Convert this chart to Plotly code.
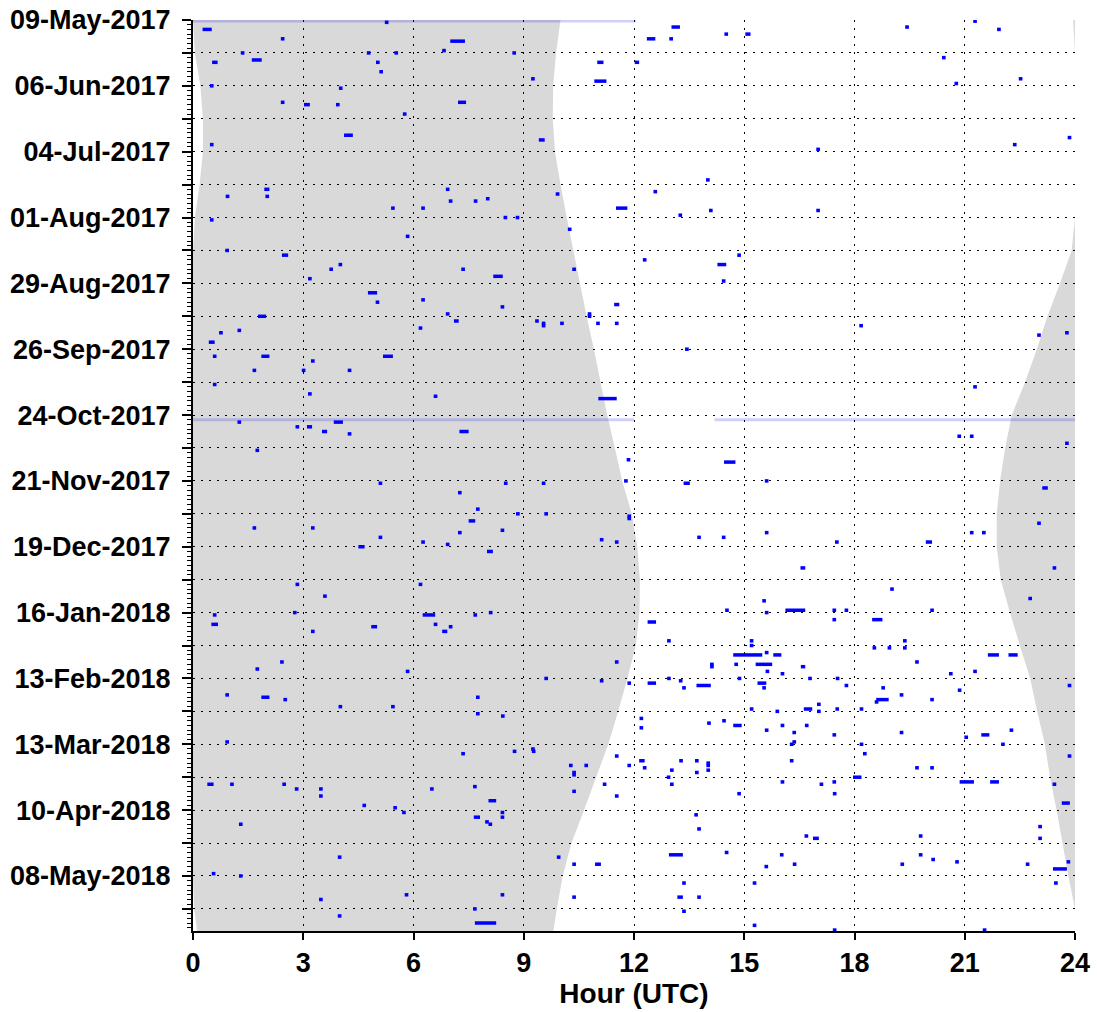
import plotly.graph_objects as go

# ---------------- data ----------------
# y positions are "days since 09-May-2017"
day_ticks = [0, 14, 28, 42, 56, 70, 84, 98, 112, 126, 140, 154, 168, 182,
             196, 210, 224, 238, 252, 266, 280, 294, 308, 322, 336, 350, 364, 378]
day_labels = ['09-May-2017', '', '06-Jun-2017', '', '04-Jul-2017', '', '01-Aug-2017', '',
              '29-Aug-2017', '', '26-Sep-2017', '', '24-Oct-2017', '', '21-Nov-2017', '',
              '19-Dec-2017', '', '16-Jan-2018', '', '13-Feb-2018', '', '13-Mar-2018', '',
              '10-Apr-2018', '', '08-May-2018', '']
hour_ticks = [0, 3, 6, 9, 12, 15, 18, 21, 24]
hour_labels = ['0', '3', '6', '9', '12', '15', '18', '21', '24']

# night shading: sunrise / sunset (UTC hours, sunset may pass 24)
sun_day = [0, 14, 28, 42, 56, 70, 84, 98, 112, 126, 140, 154, 168, 182, 196,
           210, 224, 238, 252, 266, 280, 294, 308, 322, 336, 350, 364, 378, 388]
sunrise_hr = [10.00, 9.88, 9.80, 9.79, 9.85, 10.00, 10.17, 10.35, 10.53, 10.71,
              10.91, 11.09, 11.27, 11.48, 11.68, 11.94, 12.09, 12.16, 12.15, 12.05,
              11.82, 11.57, 11.30, 10.97, 10.64, 10.30, 10.06, 9.90, 9.80]
sunset_hr = [23.95, 24.05, 24.20, 24.27, 24.27, 24.18, 24.05, 23.91, 23.59, 23.25,
             22.96, 22.64, 22.28, 22.10, 21.96, 21.87, 21.87, 21.98, 22.23, 22.50,
             22.78, 22.97, 23.18, 23.32, 23.50, 23.66, 23.82, 24.03, 24.12]

# faint data-gap lines
gap_day = [0.4, 170, 170]
gap_start = [0.0, 0.0, 14.19]
gap_end = [12.05, 12.0, 24.0]

# events
ev_day = [
    4, 8, 14, 18, 17, 14, 18, 22, 14, 1,
    28, 29, 35, 36, 36, 49, 53, 72, 75, 75,
    85, 80, 9, 13, 35, 40, 72, 76, 77, 77,
    80, 92, 14, 25, 18, 26, 18, 8, 8, 3,
    6, 6, 3, 0.5, 4, 16, 27, 25, 51, 55,
    53, 50, 68, 73, 74, 80, 81, 81, 83, 84,
    84, 89, 102, 106, 121, 125, 126, 128, 129, 130,
    129, 129, 129, 161, 187, 196, 197, 210, 211, 212,
    221, 222, 256, 273, 280, 281, 282, 282, 297, 301,
    311, 313, 317, 317, 317, 315, 318, 320, 321, 325,
    328, 330, 356, 359, 359, 373, 98, 100, 104, 106,
    106, 110, 109, 116, 120, 119, 122, 126, 125, 128,
    131, 132, 133, 137, 143, 143, 143, 145, 149, 149,
    149, 155, 159, 160, 171, 173, 173, 171, 175, 176,
    175, 183, 197, 197, 201, 208, 210, 213, 216, 216,
    217, 218, 220, 222, 223, 224, 226, 240, 240, 245,
    252, 252, 253, 253, 253, 257, 257, 258, 258, 260,
    260, 273, 276, 277, 287, 288, 289, 288, 292, 292,
    295, 296, 307, 310, 311, 312, 325, 325, 325, 327,
    327, 330, 327, 326, 332, 334, 335, 337, 339, 337,
    339, 341, 342, 342, 356, 363, 364, 372, 372, 374,
    378, 381, 384, 100, 104, 111, 130, 134, 133, 140,
    156, 177, 177, 180, 188, 197, 196, 199, 214, 218,
    218, 220, 220, 218, 222, 222, 233, 233, 242, 246,
    247, 251, 252, 251, 251, 251, 251, 255, 255, 264,
    264, 266, 264, 267, 267, 267, 269, 270, 270, 270,
    270, 273, 274, 274, 274, 275, 275, 277, 277, 278,
    278, 280, 280, 280, 280, 281, 283, 282, 284, 284,
    283, 284, 285, 283, 287, 289, 289, 290, 291, 293,
    293, 293, 293, 294, 294, 298, 299, 300, 300, 300,
    302, 303, 304, 303, 304, 302, 305, 307, 308, 308,
    308, 312, 315, 315, 315, 313, 316, 317, 319, 319,
    320, 318, 318, 322, 322, 324, 324, 325, 324, 325,
    324, 325, 329, 329, 338, 344, 347, 348, 347, 354,
    355, 355, 359, 360, 359, 355, 357, 358, 367, 367,
    373, 373, 379, 385, 387, 387, 333, 343, 348, 359,
    358, 361, 367,
]
ev_start = [
    0.26, 2.39, 1.30, 0.52, 1.60, 4.73, 4.98, 5.07, 5.48, 5.22,
    0.46, 3.97, 2.39, 3.02, 3.89, 4.11, 0.46, 1.94, 0.89, 1.97,
    0.46, 5.39, 7.00, 6.78, 7.21, 5.71, 6.88, 7.97, 6.96, 7.64,
    6.21, 5.79, 8.69, 9.20, 11.00, 10.92, 12.02, 12.35, 12.96, 13.02,
    14.46, 15.03, 19.38, 21.23, 21.88, 20.38, 20.72, 22.47, 9.41, 16.96,
    22.31, 23.80, 13.96, 12.53, 9.87, 11.51, 14.04, 16.96, 13.21, 8.45,
    8.78, 10.20, 12.24, 10.32, 11.46, 10.74, 10.74, 9.31, 9.49, 9.49,
    9.99, 10.97, 11.48, 11.03, 11.80, 11.73, 9.49, 9.56, 11.82, 11.82,
    11.07, 11.48, 12.37, 11.48, 9.56, 11.07, 11.82, 12.37, 12.15, 12.15,
    9.22, 11.48, 10.23, 10.65, 11.82, 12.14, 12.24, 10.32, 10.32, 11.15,
    10.32, 11.48, 9.90, 10.32, 10.94, 10.32, 0.88, 2.42, 3.96, 3.71,
    7.30, 3.13, 8.17, 4.76, 4.97, 6.21, 8.37, 1.77, 6.88, 7.10,
    6.14, 1.21, 0.71, 0.43, 0.54, 1.86, 5.17, 3.21, 1.62, 2.96,
    4.21, 0.54, 3.13, 6.55, 1.21, 2.79, 3.10, 3.83, 3.51, 4.21,
    7.25, 1.70, 5.05, 8.46, 7.21, 7.70, 8.79, 7.50, 1.62, 3.21,
    8.37, 7.21, 5.05, 6.21, 6.88, 4.50, 8.00, 2.79, 6.14, 3.54,
    2.72, 8.05, 0.54, 6.25, 7.63, 0.50, 6.55, 6.96, 4.85, 3.21,
    6.78, 2.37, 1.70, 5.79, 0.88, 1.86, 2.46, 7.70, 3.96, 5.39,
    7.70, 8.38, 0.88, 9.20, 8.70, 7.30, 0.39, 1.01, 2.43, 2.77,
    3.43, 3.43, 6.45, 7.62, 8.04, 4.61, 5.45, 5.69, 7.64, 8.37,
    8.37, 7.95, 8.04, 1.25, 3.94, 0.51, 1.25, 5.76, 8.37, 3.43,
    7.62, 3.94, 7.67, 14.81, 14.27, 14.39, 18.13, 22.97, 23.73, 13.39,
    21.23, 20.80, 21.14, 23.73, 14.45, 13.35, 15.56, 23.11, 22.97, 21.14,
    21.47, 13.72, 14.39, 15.56, 17.47, 19.94, 16.53, 23.39, 18.97, 22.73,
    15.49, 14.48, 15.56, 16.12, 17.40, 17.73, 20.06, 17.40, 18.48, 12.90,
    15.15, 15.15, 19.32, 18.49, 18.90, 19.32, 15.56, 14.70, 15.79, 21.63,
    22.19, 19.65, 14.73, 15.31, 14.07, 14.07, 16.54, 15.58, 21.23, 20.57,
    15.99, 14.82, 16.74, 17.49, 12.90, 13.22, 13.70, 15.36, 15.49, 13.31,
    17.73, 18.73, 20.81, 23.80, 19.23, 18.59, 20.06, 18.55, 16.98, 15.15,
    16.62, 17.48, 18.14, 15.85, 16.98, 14.40, 13.99, 14.70, 15.99, 16.65,
    15.56, 16.31, 17.40, 19.23, 21.45, 22.22, 20.99, 16.31, 16.24, 18.14,
    21.99, 18.23, 16.24, 13.23, 13.66, 23.80, 13.97, 13.97, 12.98, 13.97,
    13.66, 19.65, 20.06, 17.96, 12.89, 20.86, 21.69, 12.98, 15.99, 17.05,
    17.40, 23.39, 14.81, 17.41, 13.64, 13.72, 16.64, 16.87, 19.75, 14.47,
    12.95, 15.97, 16.32, 15.55, 19.25, 19.75, 20.09, 20.74, 13.31, 15.23,
    13.18, 13.72, 13.31, 15.23, 17.41, 21.49, 23.64, 23.00, 23.00, 22.66,
    23.77, 23.40, 23.43,
]
ev_end = [
    0.51, 2.49, 1.40, 0.67, 1.87, 4.83, 5.08, 5.17, 5.58, 5.32,
    0.56, 4.07, 2.49, 3.18, 3.99, 4.35, 0.56, 2.08, 0.99, 2.07,
    0.56, 5.49, 7.40, 6.88, 7.43, 5.81, 6.98, 8.07, 7.06, 7.74,
    6.31, 5.89, 8.79, 9.30, 11.17, 11.25, 12.14, 12.58, 13.06, 13.25,
    14.56, 15.17, 19.48, 21.33, 21.98, 20.48, 20.82, 22.57, 9.57, 17.06,
    22.41, 23.90, 14.06, 12.63, 9.97, 11.82, 14.14, 17.06, 13.31, 8.55,
    8.88, 10.30, 12.34, 10.42, 11.60, 10.84, 10.84, 9.41, 9.59, 9.59,
    10.09, 11.07, 11.58, 11.53, 11.90, 11.83, 9.59, 9.66, 11.92, 11.92,
    11.17, 11.58, 12.60, 11.58, 9.66, 11.17, 11.92, 12.60, 12.25, 12.25,
    9.32, 11.58, 10.33, 10.75, 11.92, 12.29, 12.34, 10.42, 10.42, 11.25,
    10.42, 11.58, 10.00, 10.42, 11.10, 10.42, 0.98, 2.59, 4.06, 3.81,
    7.40, 3.23, 8.43, 5.01, 5.07, 6.31, 8.47, 1.99, 6.98, 7.23,
    6.24, 1.31, 0.81, 0.59, 0.64, 2.08, 5.44, 3.31, 1.72, 3.06,
    4.31, 0.64, 3.23, 6.65, 1.31, 2.89, 3.24, 4.08, 3.65, 4.31,
    7.50, 1.80, 5.15, 8.56, 7.31, 7.80, 8.89, 7.68, 1.72, 3.31,
    8.47, 7.31, 5.15, 6.31, 6.98, 4.67, 8.16, 2.89, 6.24, 3.64,
    2.82, 8.15, 0.64, 6.59, 7.73, 0.68, 6.65, 7.06, 5.01, 3.31,
    6.92, 2.47, 1.80, 5.89, 0.98, 2.08, 2.56, 7.80, 4.06, 5.49,
    7.80, 8.48, 0.98, 9.30, 8.80, 7.40, 0.56, 1.11, 2.53, 2.87,
    3.53, 3.53, 6.55, 7.72, 8.25, 4.71, 5.55, 5.79, 7.81, 8.47,
    8.47, 8.05, 8.14, 1.35, 4.04, 0.61, 1.35, 5.86, 8.47, 3.53,
    7.72, 4.04, 8.25, 14.91, 14.51, 14.49, 18.23, 23.07, 23.83, 13.49,
    21.33, 20.90, 21.24, 23.83, 14.76, 13.52, 15.66, 23.26, 23.07, 21.24,
    21.57, 13.82, 14.49, 15.66, 17.57, 20.11, 16.66, 23.49, 19.07, 22.83,
    15.59, 14.58, 15.66, 16.66, 17.50, 17.83, 20.16, 17.50, 18.76, 13.00,
    15.25, 15.25, 19.42, 18.59, 19.00, 19.42, 15.66, 15.49, 16.01, 21.93,
    22.44, 19.75, 14.83, 15.76, 14.17, 14.17, 16.66, 15.68, 21.33, 20.67,
    16.09, 14.92, 16.84, 17.59, 13.00, 13.32, 14.09, 15.60, 15.59, 13.41,
    17.83, 18.83, 20.91, 23.90, 19.33, 18.93, 20.16, 18.65, 17.08, 15.25,
    16.85, 17.58, 18.24, 15.95, 17.08, 14.50, 14.09, 14.93, 16.09, 16.75,
    15.66, 16.41, 17.50, 19.33, 21.67, 22.32, 21.09, 16.41, 16.34, 18.24,
    22.09, 18.33, 16.34, 13.33, 13.76, 23.90, 14.07, 14.07, 13.08, 14.07,
    13.76, 19.75, 20.16, 18.19, 12.99, 21.25, 21.93, 13.08, 16.09, 17.15,
    17.50, 23.49, 14.91, 17.51, 13.74, 13.82, 16.74, 17.03, 19.85, 14.57,
    13.33, 16.07, 16.42, 15.65, 19.35, 19.85, 20.19, 20.84, 13.41, 15.33,
    13.33, 13.82, 13.41, 15.33, 17.51, 21.59, 23.86, 23.10, 23.10, 22.76,
    23.87, 23.78, 23.53,
]
assert len(ev_day) == len(ev_start) == len(ev_end)

# ---------------- figure ----------------
fig = go.Figure()

GRAY = '#d9d9d9'


def path_of(pts):
    return 'M ' + ' L '.join(f'{x},{y}' for x, y in pts) + ' Z'


left_edge = [max(s - 24.0, 0.0) for s in sunset_hr]
left_pts = list(zip(left_edge, sun_day)) + list(zip(sunrise_hr, sun_day))[::-1]
right_edge = [min(s, 24.0) for s in sunset_hr]
right_pts = list(zip(right_edge, sun_day)) + [(24.0, d) for d in sun_day][::-1]

for pts in (left_pts, right_pts):
    fig.add_shape(type='path', path=path_of(pts), xref='x', yref='y',
                  fillcolor=GRAY, line=dict(width=0), layer='below')

# faint gap lines
gx, gy = [], []
for d, s, e in zip(gap_day, gap_start, gap_end):
    gx += [s, e, None]
    gy += [d, d, None]
fig.add_trace(go.Scatter(x=gx, y=gy, mode='lines',
                         line=dict(color='rgba(40,40,230,0.22)', width=3),
                         hoverinfo='skip', showlegend=False))

# events
ex, ey = [], []
for d, s, e in zip(ev_day, ev_start, ev_end):
    ex += [s, e, None]
    ey += [d, d, None]
fig.add_trace(go.Scatter(x=ex, y=ey, mode='lines',
                         line=dict(color='#0000ff', width=3.5),
                         showlegend=False))

FONT = 'Liberation Sans, Arial, sans-serif'
grid = dict(showgrid=True, gridcolor='black', gridwidth=1.3, griddash='2px,6px')

fig.update_layout(
    width=1097, height=1012,
    margin=dict(l=193, r=22, t=20, b=81),
    plot_bgcolor='white', paper_bgcolor='white',
    showlegend=False,
    font=dict(family=FONT, size=27, color='black'),
)
fig.update_xaxes(
    range=[0, 24], tickmode='array', tickvals=hour_ticks, ticktext=hour_labels,
    ticks='outside', ticklen=7, tickwidth=2, tickcolor='black',
    showline=True, linecolor='black', linewidth=2, zeroline=False,
    automargin=False, ticklabeloverflow='allow',
    tickfont=dict(family=FONT, size=27, weight='bold', color='black'),
    title=dict(text='Hour (UTC)', standoff=6,
               font=dict(family=FONT, size=28, weight='bold', color='black')),
    **grid,
)
fig.update_yaxes(
    range=[387.4, 0], tickmode='array', tickvals=day_ticks, ticktext=day_labels,
    ticks='outside', ticklen=9, tickwidth=2, tickcolor='black',
    showline=True, linecolor='black', linewidth=2, zeroline=False,
    automargin=False, ticklabeloverflow='allow',
    ticklabelstandoff=6,
    tickfont=dict(family=FONT, size=27, weight='bold', color='black'),
    minor=dict(tickmode='linear', tick0=0, dtick=2, ticks='outside', ticklen=4,
               tickwidth=1, tickcolor='black', showgrid=False),
    **grid,
)

# remove the page's default body margin so the figure fills the window exactly
fig.write_html('out.html',
               config={'displayModeBar': False},
               post_script="document.body.style.margin='0px';document.body.style.overflow='hidden';")
